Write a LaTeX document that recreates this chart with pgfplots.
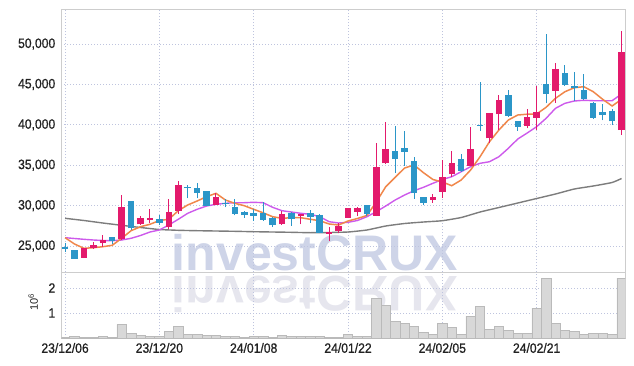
\documentclass[border=0pt]{standalone}
\usepackage{pgfplots}
\pgfplotsset{compat=1.18}
\usepackage{pgfplotstable}
\usepackage{fontspec}
\setmainfont{Liberation Sans}
\newfontfamily\tickfamily{Liberation Sans}[FakeStretch=0.9, FakeBold=0.8]
\newfontfamily\wmfamily{Liberation Sans}
\definecolor{upc}{RGB}{227,26,108}
\definecolor{dnc}{RGB}{43,150,200}
\definecolor{ma5c}{RGB}{240,135,75}
\definecolor{ma20c}{RGB}{205,90,235}
\definecolor{ma60c}{RGB}{125,125,125}
\definecolor{volc}{RGB}{216,216,216}
\definecolor{volbc}{RGB}{186,186,186}
\definecolor{gridc}{RGB}{190,196,222}
\definecolor{axisc}{RGB}{205,205,205}
\definecolor{tickc}{RGB}{34,34,34}
\definecolor{wmc}{RGB}{206,212,232}
\definecolor{wmrc}{RGB}{230,230,238}

\pgfplotstableread{
i o h l c
2 23550 24800 23500 24750
3 24710 25460 24650 25120
4 25330 26320 24910 25740
6 25830 31280 25700 29830
8 27690 28700 27650 28430
9 28220 29620 27810 28470
11 27310 30860 27100 29210
12 29370 33010 28950 32510
16 30110 31530 30050 31030
23 27690 29370 27600 28960
25 28750 29000 27690 28920
28 26490 27310 25620 26700
29 26860 27810 26570 27510
30 28500 29750 28450 29700
31 29250 29870 28710 29700
33 28750 37710 28700 34740
34 35240 40310 35200 36970
39 30690 31440 30360 31100
40 31720 35650 30950 33500
41 33910 36800 33580 35240
43 34940 39770 34850 36970
45 38330 41500 37710 41430
46 41300 43660 39360 43040
49 39860 41920 39570 40930
50 40880 44850 39360 41550
52 44230 47620 42740 46880
59 39360 51650 38740 49020
}\updata

\pgfplotstableread{
i o h l c
0 24880 25330 24300 24600
1 24500 24550 23400 23430
5 26110 26150 25250 25580
7 30570 30600 26980 27190
10 28300 28840 27600 27880
13 32330 32550 30900 32180
14 32140 32760 30900 31600
15 31810 31850 29950 29990
17 30340 30780 29790 30150
18 29830 30780 28800 29000
19 29170 29300 28500 28800
20 29050 29540 28130 28750
21 29120 30480 28100 28220
22 28500 28550 27350 27600
24 29120 29200 27480 28300
26 29120 29460 27880 28550
27 28880 28950 26600 26650
32 30040 30100 28700 28960
35 36760 39890 34070 35770
36 37090 39240 34900 36670
37 35490 36060 30830 31520
38 31030 31050 30040 30360
42 35730 36350 34200 34320
44 40020 45340 39240 39860
47 43660 44280 41000 41130
48 40440 40500 39240 39770
51 45060 51250 42670 43820
53 46450 47370 44800 44930
54 44810 46500 42950 44600
55 44310 46300 43100 43200
56 42700 42800 40700 40850
57 41590 42620 40560 41220
58 41750 41930 39950 40440
}\dndata

\pgfplotstableread{
i ma5 ma20
0 26028 26028
1 25248 25929
2 24715 25829
3 24790 25743
4 24913 25681
5 25087 25656
6 25953 25743
7 26894 25953
8 27389 26300
9 27686 26733
10 28157 26981
11 28305 27600
12 29370 28305
13 30076 29048
14 30571 29543
15 31103 29952
16 31524 30162
17 30695 30286
18 30286 30361
19 29989 30361
20 29543 30410
21 29110 30361
22 28627 29791
23 28429 29370
24 28504 29209
25 28504 29048
26 28305 28924
27 28132 28627
28 27724 28008
29 27600 27847
30 28095 27934
31 28405 28157
32 28776 28627
33 30447 29246
34 32341 29952
35 33505 30695
36 34656 31314
37 35028 31846
38 34075 32267
39 33233 32762
40 32923 33233
41 32465 33579
42 33171 34198
43 34409 34817
44 36055 35238
45 37912 35436
46 39361 36055
47 40599 37095
48 41218 38247
49 41317 38989
50 41342 39769
51 42171 40809
52 43285 42047
53 44102 42666
54 44598 42951
55 44721 43038
56 44102 42988
57 43161 42988
58 42332 42988
59 43161 43818
}\madata

\pgfplotstableread{
i ma60
0 28429
2 28157
4 27847
6 27563
8 27290
10 27043
12 26944
14 26894
16 26857
18 26820
20 26770
22 26733
24 26696
26 26647
28 26671
30 26733
32 26981
34 27476
36 27786
38 27971
40 28132
42 28528
44 29209
46 29766
48 30323
50 30881
52 31438
54 32057
56 32428
58 32861
59 33357
}\malong

\pgfplotstableread{
i v
0 0.03
1 0.08
2 0.02
3 0.02
4 0.08
5 0.02
6 0.55
7 0.20
8 0.12
9 0.07
10 0.05
11 0.28
12 0.48
13 0.16
14 0.16
15 0.12
16 0.12
17 0.07
18 0.07
19 0.02
20 0.06
21 0.06
22 0.02
23 0.12
24 0.07
25 0.07
26 0.07
27 0.07
28 0.03
29 0.03
30 0.15
31 0.06
32 0.06
33 1.57
34 1.31
35 0.67
36 0.60
37 0.48
38 0.24
39 0.16
40 0.60
41 0.44
42 0.16
43 0.88
44 1.28
45 0.36
46 0.48
47 0.32
48 0.20
49 0.20
50 1.20
51 2.40
52 0.60
53 0.32
54 0.28
55 0.16
56 0.20
57 0.20
58 0.16
59 2.40
}\voldata

\pgfplotsset{
  common/.style={
    scale only axis, width=564bp,
    xmin=-0.4, xmax=59.4,
    xtick={0,10,20,30,40,50},
    major tick length=0pt,
    axis line style={draw=axisc, line width=0.8bp},
    grid=major,
    major grid style={draw=gridc, line width=0.7bp, dash pattern=on 1bp off 2bp},
    every tick label/.append style={font=\tickfamily\fontsize{13.5bp}{16bp}\selectfont, text=tickc},
    yticklabel style={xshift=-2.5bp},
    xticklabel style={yshift=-1.5bp},
    /pgf/number format/assume math mode=true,
    enlargelimits=false,
    clip=true,
  },
  candle/.style 2 args={draw=none, no markers, forget plot,
    error bars/.cd, y dir=plus, y explicit, error mark=none,
    error bar style={draw=#1, solid, line width=#2}},
}

\begin{document}
\begin{tikzpicture}
\useasboundingbox (0bp,0bp) rectangle (634bp,-366bp);
% watermark
\node[anchor=base, inner sep=0pt, text=wmrc, yscale=-1, font=\wmfamily\bfseries\fontsize{50bp}{56bp}\selectfont] at (315bp,-276bp) {investCRUX};
\node[anchor=base, inner sep=0pt, text=wmc, font=\wmfamily\bfseries\fontsize{50bp}{56bp}\selectfont] at (315bp,-270bp) {investCRUX};

\begin{axis}[common,
  at={(61.3bp,-9bp)}, anchor=north west,
  height=263bp,
  ymin=21781, ymax=54341,
  ytick={25000,30000,35000,40000,45000,50000},
  scaled y ticks=false,
  yticklabel style={/pgf/number format/.cd, fixed, 1000 sep={,}},
  xticklabels={},
]
% long MA
\addplot[ma60c, line width=1.4bp, smooth, tension=0.3, no markers] table[x=i,y=ma60] {\malong};
% MA20 and MA5
\addplot[ma20c, line width=1.4bp, no markers] table[x=i,y=ma20] {\madata};
\addplot[ma5c, line width=1.5bp, no markers] table[x=i,y=ma5] {\madata};
% wicks
\addplot[candle={upc}{1bp}]
  table[x=i, y=l, y error expr=\thisrow{h}-\thisrow{l}] {\updata};
\addplot[candle={dnc}{1bp}]
  table[x=i, y=l, y error expr=\thisrow{h}-\thisrow{l}] {\dndata};
% bodies
\addplot[candle={upc}{6.5bp}]
  table[x=i, y=o, y error expr=\thisrow{c}-\thisrow{o}] {\updata};
\addplot[candle={dnc}{6.5bp}]
  table[x=i, y=c, y error expr=\thisrow{o}-\thisrow{c}] {\dndata};
\end{axis}

\begin{axis}[common,
  at={(61.3bp,-272bp)}, anchor=north west,
  height=66bp,
  ymin=0, ymax=2.64,
  ytick={1,2},
  xticklabels={23/12/06,23/12/20,24/01/08,24/01/22,24/02/05,24/02/21},
  ylabel={10\textsuperscript{6}},
  every axis y label/.style={at={(axis description cs:-0.0496,0.545)}, anchor=center, rotate=90,
    font=\fontsize{11bp}{13bp}\selectfont, text=tickc},
]
\addplot[ybar, bar width=1, fill=volc, draw=volbc, line width=0.6bp] table[x=i,y=v] {\voldata};
\end{axis}
\end{tikzpicture}
\end{document}
